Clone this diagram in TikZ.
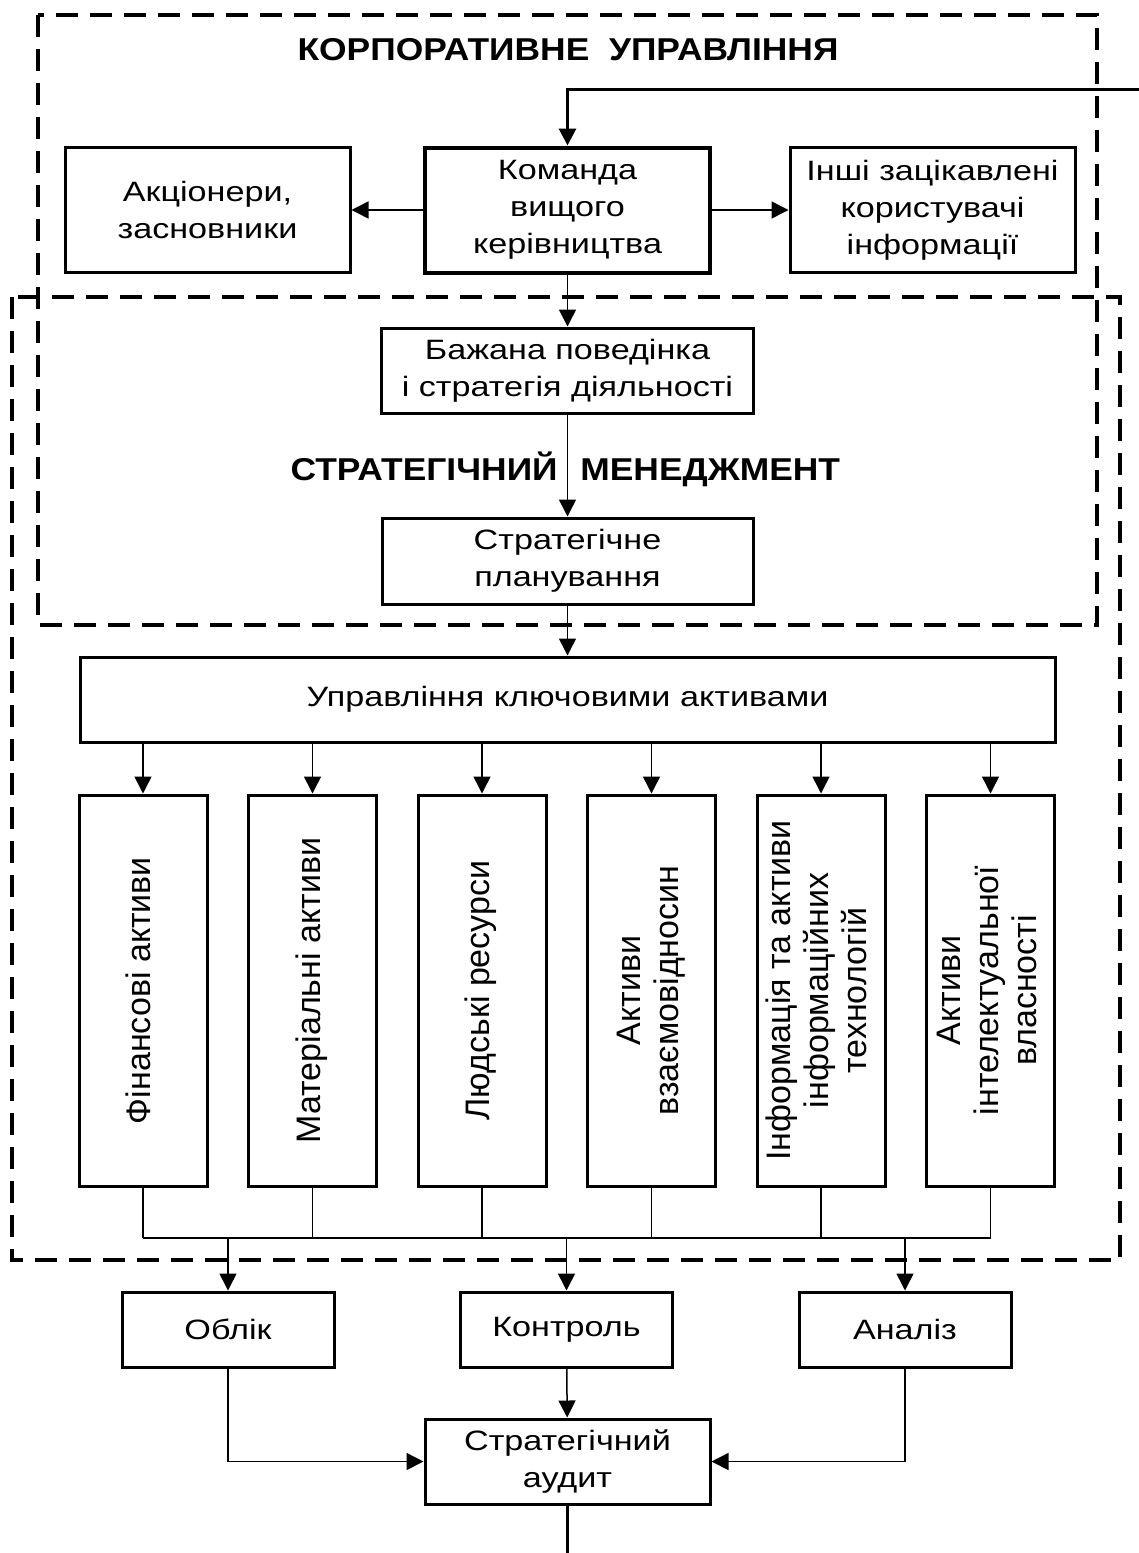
\documentclass[tikz,border=0pt]{standalone}
\usepackage{fontspec}
\setmainfont{Liberation Sans}[FakeStretch=1.22]
\newfontfamily\vertfont{Liberation Sans}
\newfontfamily\titlefont{Liberation Sans}[FakeStretch=1.12]
\usetikzlibrary{positioning, arrows.meta, calc}
\newcommand{\vlabel}[1]{\rotatebox{90}{\vertfont\fontsize{17}{19}\selectfont\begin{tabular}{@{}c@{}}#1\end{tabular}}}

\begin{document}
\begin{tikzpicture}[x=0.5pt, y=-0.5pt, font=\fontsize{14}{18.5}\selectfont,
    block/.style = {draw, line width=1.5pt, align=center, inner sep=0pt},
    wide/.style = {block, minimum width=142.5pt, minimum height=62.5pt},
    asset/.style = {block, minimum width=64pt, minimum height=195.5pt},
    small/.style = {block, minimum width=106pt, minimum height=37.5pt},
    title/.style = {inner sep=0pt, font=\titlefont\fontsize{15.8}{18}\selectfont\bfseries},
    frame/.style = {line width=2pt, dash pattern=on 11pt off 6pt},
    link/.style = {line width=0.75pt},
    arr/.style = {link, -{Triangle[length=8.5pt, width=8.5pt]}}]
            \useasboundingbox (0,0) rectangle (1139,1553);
            % dashed areas
            \draw[frame] (38,15) rectangle (1097,625);
            \draw[frame] (12,297) rectangle (1120,1260);
            \node[title, anchor=base] (corp) at (568,60) {КОРПОРАТИВНЕ\ \ УПРАВЛІННЯ};
            \node[wide, line width=2pt] (cmd) at (567.5,210) {Команда\\вищого\\керівництва};
            \node[wide] (share) [left=35.75pt of cmd] {Акціонери,\\засновники};
            \node[wide] (users) [right=38.25pt of cmd] {Інші зацікавлені\\користувачі\\інформації};
            \node[block, minimum width=186pt, minimum height=42.5pt] (behav) at (567.5,370.5) {Бажана поведінка\\і стратегія діяльності};
            \node[title, anchor=base east] (mgmt1) at (558,480) {СТРАТЕГІЧНИЙ};
            \node[title, anchor=base west] (mgmt2) at (580,480) {МЕНЕДЖМЕНТ};
            \node[block, minimum width=185.5pt, minimum height=43pt] (plan) at (567.5,561) {Стратегічне\\планування};
            \node[block, minimum width=487.5pt, minimum height=42.5pt] (keys) at (567.5,699.5) {Управління ключовими активами};
            % key assets
            \node[asset] (fin) at (143,990.5) {\vlabel{Фінансові активи}};
            \node[asset] (mat) [right=19.25pt of fin] {\vlabel{Матеріальні активи}};
            \node[asset] (hum) [right=19.25pt of mat] {\vlabel{Людські ресурси}};
            \node[asset] (rel) [right=19.25pt of hum] {\vlabel{Активи\\взаємовідносин}};
            \node[asset] (inf) [right=19.25pt of rel] {\vlabel{Інформація та активи\\інформаційних\\технологій}};
            \node[asset] (ip) [right=19.25pt of inf] {\vlabel{Активи\\інтелектуальної\\власності}};
            \coordinate (bus) at (0,1238);
            \node[small] (acc) at (228,1329.5) {Облік};
            \node[small] (ctrl) [right=61.75pt of acc] {Контроль};
            \node[small] (anl) [right=61.75pt of ctrl] {Аналіз};
            \node[wide, minimum height=42.5pt] (audit) at (567.5,1461.5) {Стратегічний\\аудит};
            \coordinate (fb) at (1139,89);
            \coordinate (exit) at (567.5,1553);
            % connectors
            \draw[arr, line width=1.5pt] (fb) -| (cmd.north);
            \draw[arr] (cmd) -- (share);
            \draw[arr] (cmd) -- (users);
            \draw[arr] (cmd) -- (behav);
            \draw[arr] (behav) -- (plan);
            \draw[arr] (plan) -- (keys);
            \foreach \n in {fin,mat,hum,rel,inf,ip} {
                \draw[arr] (keys.south -| \n.north) -- (\n.north);
                \draw[link] (\n.south) -- (\n.south |- bus);
            }
            \draw[link, line width=1pt] (fin.south |- bus) -- (ip.south |- bus);
            \foreach \n in {acc,ctrl,anl}
                \draw[arr] (\n.north |- bus) -- (\n.north);
            \draw[arr] (ctrl) -- (audit);
            \draw[arr] (acc.south) |- (audit.west);
            \draw[arr] (anl.south) |- (audit.east);
            \draw[line width=1.5pt] (audit.south) -- (exit);
\end{tikzpicture}
\end{document}
